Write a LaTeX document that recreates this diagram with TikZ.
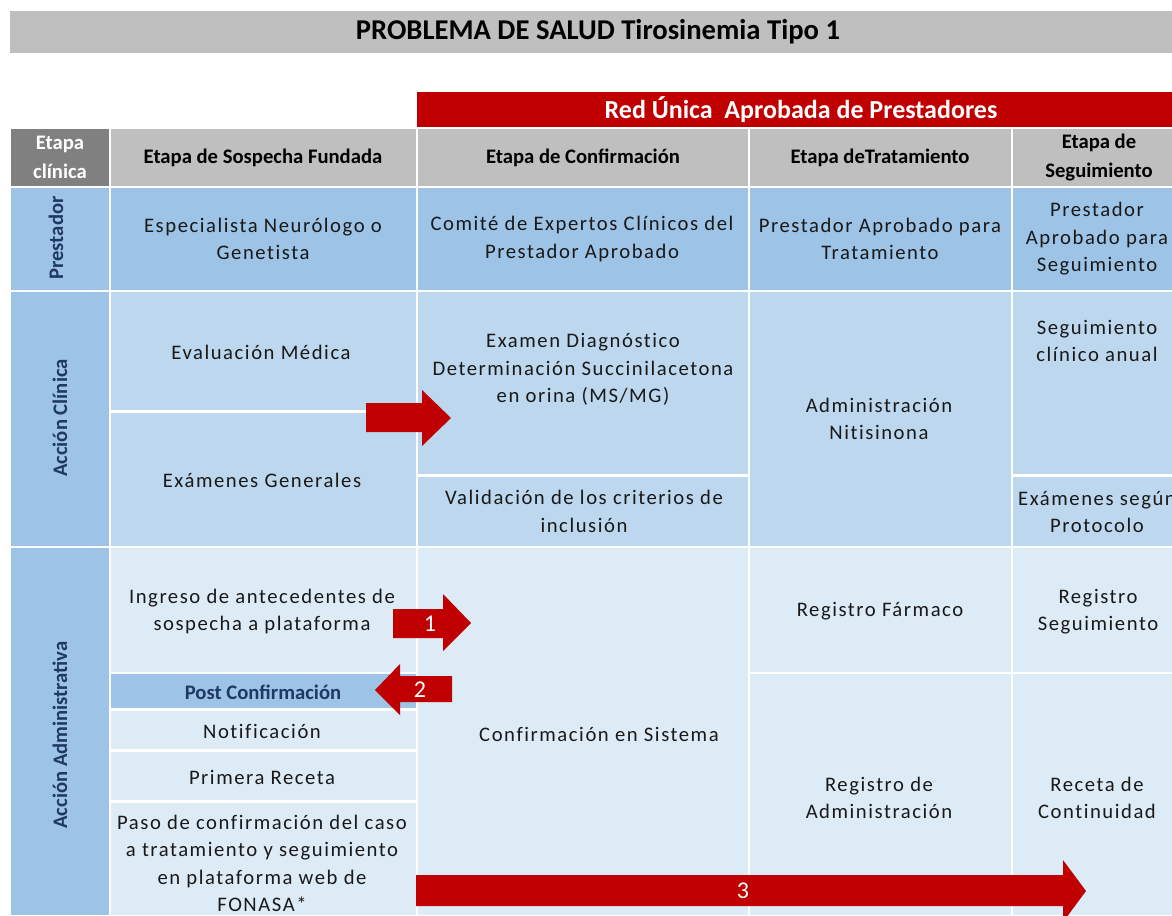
\documentclass[tikz,border=0pt]{standalone}
\usepackage{fontspec}
\setmainfont{Carlito}
\newfontfamily\spaced[LetterSpace=7.5,Ligatures=NoCommon]{Carlito}
\usetikzlibrary{fit}
\definecolor{ttlgray}{HTML}{BFBFBF}
\definecolor{dkgray}{HTML}{808080}
\definecolor{redhd}{HTML}{C00000}
\definecolor{bluemd}{HTML}{9DC3E6}
\definecolor{bluelt}{HTML}{BDD7EE}
\definecolor{bluexl}{HTML}{DDEBF7}
\definecolor{navy}{HTML}{1F3864}
\begin{document}
\begin{tikzpicture}[x=0.75pt,y=-0.75pt,
 cell/.style={inner sep=0pt, outer sep=0pt, draw=none},
 txt/.style={align=center, font=\spaced\fontsize{15.5}{20.6}\selectfont, text=black!90, inner sep=0pt},
 hdr/.style={align=center, font=\bfseries\fontsize{15.5}{21.5}\selectfont, text=black, inner sep=0pt},
 side/.style={rotate=90, font=\bfseries\fontsize{15.5}{18}\selectfont, text=navy, inner sep=0pt},
 arr/.style={fill=redhd, draw=none},
 num/.style={text=white, font=\fontsize{18}{21}\selectfont, inner sep=0pt}]
\useasboundingbox (0,0) rectangle (1172,915);
\clip (0,0) rectangle (1172,915);
% title and red band
\node[cell, fill=ttlgray, fit={(10,11)(1172,53)}] (title) {};
\node[font=\bfseries\fontsize{21.5}{24}\selectfont, inner sep=0pt] (ttxt) at (598,32) {PROBLEMA DE SALUD Tirosinemia Tipo 1};
\node[cell, fill=redhd, fit={(417,92)(1172,127)}] (red) {};
\node[font=\bfseries\fontsize{19.5}{22}\selectfont, text=white, inner sep=0pt] (rtxt) at (801,110) {Red Única\ \ Aprobada de Prestadores};
% header row
\node[cell, fill=dkgray, fit={(11,129)(109,186)}] (h0) {};
\node[cell, fill=ttlgray, fit={(111,129)(416,186)}] (h1) {};
\node[cell, fill=ttlgray, fit={(418,129)(748,186)}] (h2) {};
\node[cell, fill=ttlgray, fit={(750,129)(1011,186)}] (h3) {};
\node[cell, fill=ttlgray, fit={(1013,129)(1172,186)}] (h4) {};
\node[hdr, text=white] (th0) at (60,157.5) {Etapa\\clínica};
\node[hdr] (th1) at (263,158) {Etapa de Sospecha Fundada};
\node[hdr] (th2) at (583,158) {Etapa de Confirmación};
\node[hdr] (th3) at (880,158) {Etapa deTratamiento};
\node[hdr] (th4) at (1099,157.5) {Etapa de\\Seguimiento};
% prestador row
\node[cell, fill=bluemd, fit={(11,188)(109,290)}] (p0) {};
\node[cell, fill=bluemd, fit={(111,188)(416,290)}] (p1) {};
\node[cell, fill=bluemd, fit={(418,188)(748,290)}] (p2) {};
\node[cell, fill=bluemd, fit={(750,188)(1011,290)}] (p3) {};
\node[cell, fill=bluemd, fit={(1013,188)(1172,290)}] (p4) {};
\node[side] (tp0) at (56,238) {Prestador};
\node[txt] (tp1) at (263,239) {Especialista Neurólogo o\\Genetista};
\node[txt] (tp2) at (582,239) {Comité de Expertos Clínicos del\\Prestador Aprobado};
\node[txt] (tp3) at (880,239) {Prestador Aprobado para\\Tratamiento};
\node[txt] (tp4) at (1097,239) {Prestador\\Aprobado para\\Seguimiento};
% accion clinica row
\node[cell, fill=bluemd, fit={(11,292)(109,546)}] (c0) {};
\node[cell, fill=bluelt, fit={(111,292)(416,410)}] (c1a) {};
\node[cell, fill=bluelt, fit={(111,413)(416,546)}] (c1b) {};
\node[cell, fill=bluelt, fit={(418,292)(748,474)}] (c2a) {};
\node[cell, fill=bluelt, fit={(418,477)(748,546)}] (c2b) {};
\node[cell, fill=bluelt, fit={(750,292)(1011,546)}] (c3) {};
\node[cell, fill=bluelt, fit={(1013,292)(1172,474)}] (c4a) {};
\node[cell, fill=bluelt, fit={(1013,477)(1172,546)}] (c4b) {};
\node[side] (tc0) at (60,418) {Acción Clínica};
\node[txt] (tc1a) at (261,352) {Evaluación Médica};
\node[txt] (tc1b) at (262,480) {Exámenes Generales};
\node[txt] (tc2a) at (583,369.5) {Examen Diagnóstico\\Determinación Succinilacetona\\en orina (MS/MG)};
\node[txt] (tc2b) at (584,511.5) {Validación de los criterios de\\inclusión};
\node[txt] (tc3) at (879,419) {Administración\\Nitisinona};
\node[txt] (tc4a) at (1097,341) {Seguimiento\\clínico anual};
\node[txt] (tc4b) at (1097,512) {Exámenes según\\Protocolo};
% accion administrativa row
\node[cell, fill=bluemd, fit={(11,548)(109,915)}] (a0) {};
\node[cell, fill=bluexl, fit={(111,548)(416,672)}] (a1a) {};
\node[cell, fill=bluemd, fit={(111,674)(416,708)}] (a1b) {};
\node[cell, fill=bluexl, fit={(111,711)(416,749)}] (a1c) {};
\node[cell, fill=bluexl, fit={(111,752)(416,800)}] (a1d) {};
\node[cell, fill=bluexl, fit={(111,803)(416,915)}] (a1e) {};
\node[cell, fill=bluexl, fit={(418,548)(748,915)}] (a2) {};
\node[cell, fill=bluexl, fit={(750,548)(1011,672)}] (a3a) {};
\node[cell, fill=bluexl, fit={(750,674)(1011,915)}] (a3b) {};
\node[cell, fill=bluexl, fit={(1013,548)(1172,672)}] (a4a) {};
\node[cell, fill=bluexl, fit={(1013,674)(1172,915)}] (a4b) {};
\node[side] (ta0) at (60,735) {Acción Administrativa};
\node[txt] (ta1a) at (262,611.5) {Ingreso de antecedentes de\\sospecha a plataforma};
\node[hdr, text=navy] (ta1b) at (263,692) {Post Confirmación};
\node[txt] (ta1c) at (262,731) {Notificación};
\node[txt] (ta1d) at (262,777) {Primera Receta};
\node[txt] (ta1e) at (262,863.5) {Paso de confirmación del caso\\a tratamiento y seguimiento\\en plataforma web de\\FONASA*};
\node[txt] (ta2) at (599,734) {Confirmación en Sistema};
\node[txt] (ta3a) at (880,611) {Registro Fármaco};
\node[txt] (ta3b) at (879,798) {Registro de\\Administración};
\node[txt] (ta4a) at (1098,611.5) {Registro\\Seguimiento};
\node[txt] (ta4b) at (1097,798) {Receta de\\Continuidad};
% block arrows
\fill[arr] (366,403) -- (422,403) -- (422,390) -- (451,418) -- (422,446) -- (422,432) -- (366,432) -- cycle;
\fill[arr] (393,609) -- (443,609) -- (443,594) -- (471,623) -- (443,651) -- (443,638) -- (393,638) -- cycle;
\node[num] (n1) at (430,624) {1};
\fill[arr] (452,676) -- (400,676) -- (400,664) -- (375,690) -- (400,715) -- (400,702) -- (452,702) -- cycle;
\node[num] (n2) at (420,690) {2};
\fill[arr] (416,875) -- (1063,875) -- (1063,860) -- (1086,891) -- (1063,922) -- (1063,906) -- (416,906) -- cycle;
\node[num] (n3) at (743,891) {3};
\end{tikzpicture}
\end{document}
